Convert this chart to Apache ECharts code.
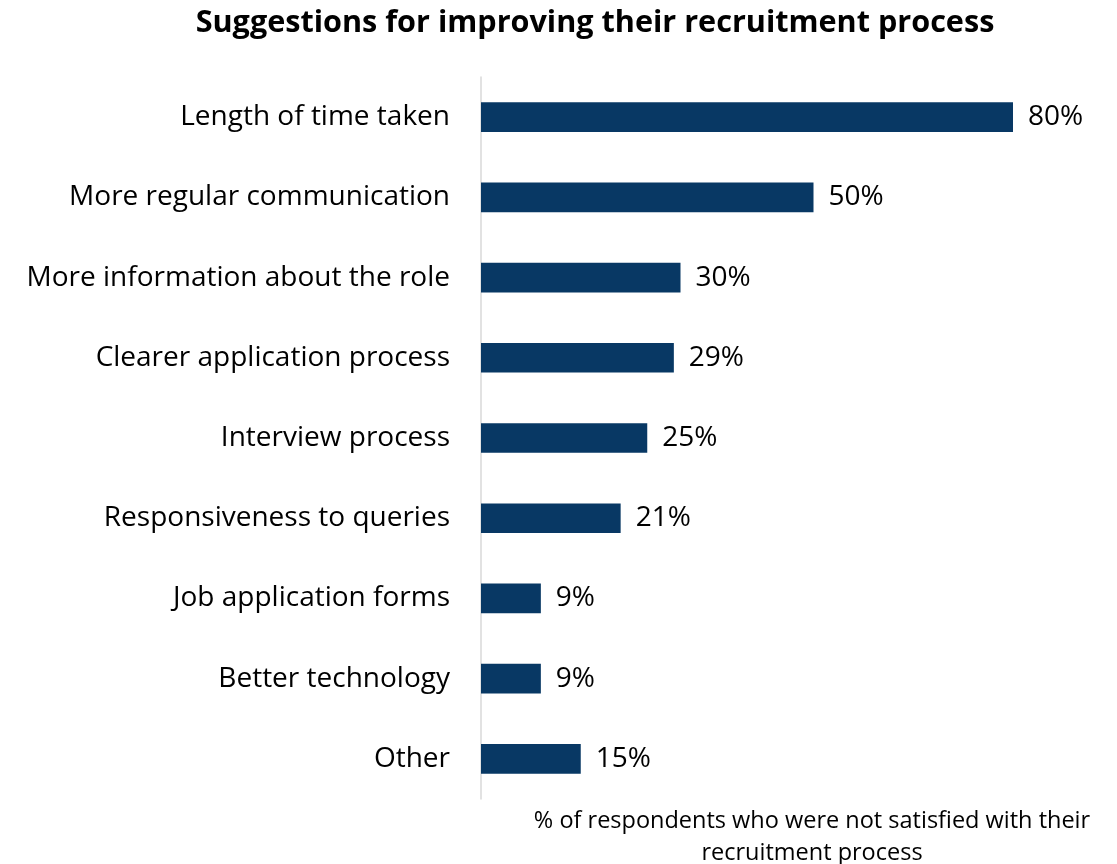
<!DOCTYPE html>
<html>
<head>
<meta charset="utf-8">
<script src="https://cdn.jsdelivr.net/npm/echarts@6/dist/echarts.min.js"></script>
<style>
  html, body { margin: 0; padding: 0; background: #ffffff; }
  #chart { width: 1117px; height: 864px; }
</style>
</head>
<body>
<div id="chart"></div>
<script>
// Suggestions for improving the recruitment process (% of dissatisfied respondents)
const categories = [
  'Length of time taken',
  'More regular communication',
  'More information about the role',
  'Clearer application process',
  'Interview process',
  'Responsiveness to queries',
  'Job application forms',
  'Better technology',
  'Other'
];
const percentValues = [80, 50, 30, 29, 25, 21, 9, 9, 15];
const titleText = 'Suggestions for improving their recruitment process';
const axisCaption = '% of respondents who were not satisfied with their\nrecruitment process';

const FONT = '"Open Sans"';
const chart = echarts.init(document.getElementById('chart'));

chart.setOption({
  animation: false,
  backgroundColor: '#ffffff',
  title: {
    text: titleText,
    left: 590,
    textAlign: 'center',
    top: 3,
    textStyle: { fontFamily: FONT, fontWeight: 'bold', fontSize: 30.6, color: '#000000' }
  },
  grid: { left: 481, right: 104, top: 77, bottom: 65, outerBoundsMode: 'none' },
  xAxis: {
    type: 'value',
    min: 0,
    max: 80,
    axisLine: { show: false },
    axisTick: { show: false },
    axisLabel: { show: false },
    splitLine: { show: false }
  },
  yAxis: {
    type: 'category',
    data: categories,
    inverse: true,
    axisLine: { show: true, lineStyle: { color: '#d9d9d9', width: 1.5 } },
    axisTick: { show: false },
    axisLabel: { fontFamily: FONT, fontSize: 28, color: '#000000', margin: 31 }
  },
  graphic: [{
    type: 'text',
    x: 812,
    y: 805,
    style: {
      text: axisCaption,
      textAlign: 'center',
      fontFamily: FONT, fontSize: 23.5, lineHeight: 32, fill: '#000000'
    }
  }],
  series: [{
    type: 'bar',
    data: percentValues,
    barWidth: '37%',
    itemStyle: { color: '#083864' },
    label: {
      show: true,
      position: 'right',
      distance: 15,
      formatter: p => p.value + '%',
      fontFamily: FONT, fontSize: 28, color: '#000000'
    }
  }]
});
</script>
</body>
</html>
